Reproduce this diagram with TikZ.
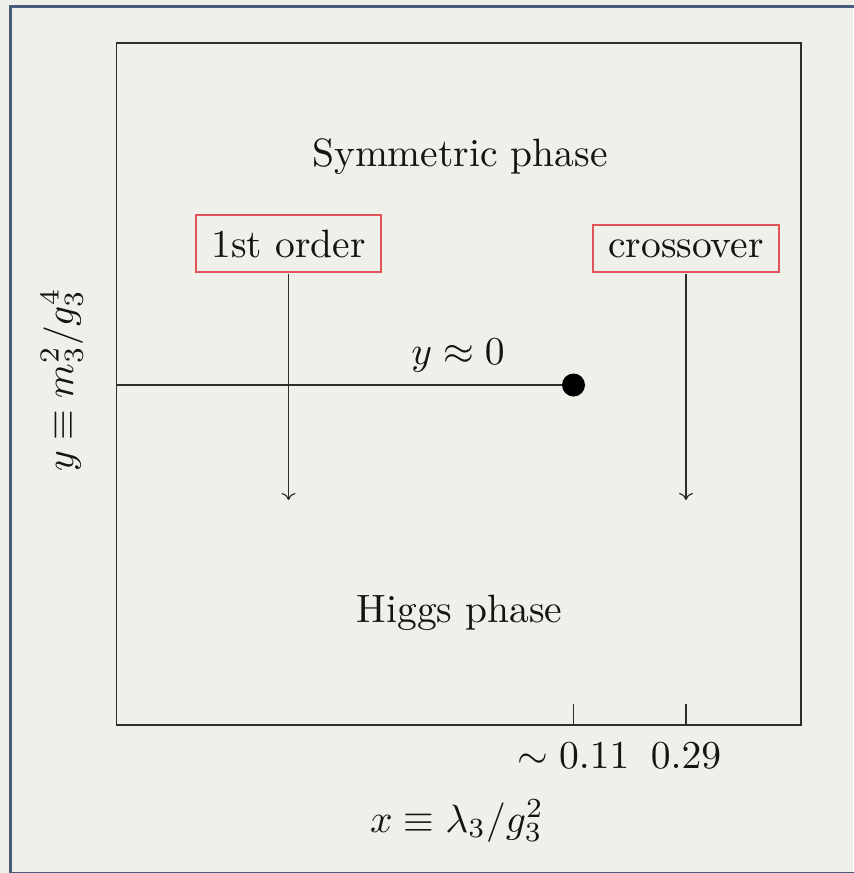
\documentclass[tikz,border=0pt]{standalone}
\usepackage{amsmath, amssymb}
\usepackage{tikz}
\usepackage{xcolor}
\usetikzlibrary{arrows.meta, positioning, calc}
\definecolor{paper}{RGB}{240,240,235}
\definecolor{frameblue}{RGB}{72,92,122}
\definecolor{boxred}{RGB}{226,84,90}
\definecolor{ink}{RGB}{45,45,45}

\tikzset{
  lbl/.style={font=\normalsize, scale=2.25, text=black!92},
  regimebox/.style={lbl, draw=boxred, line width=1.1pt, inner xsep=0.138cm, inner ysep=0.127cm, anchor=base},
  axisline/.style={draw=ink, line width=0.8pt},
  flow/.style={draw=ink, line width=0.7pt, -{To[length=4pt, width=8pt]}},
  critdot/.style={circle, fill=black, inner sep=0pt, minimum size=0.46cm}
}

\begin{document}
\begin{tikzpicture}[x=0.02cm, y=-0.02cm]
        \useasboundingbox (0,0) rectangle (853,873);
        % Background and frame
        \fill[paper] (0,0) rectangle (853,873);
        \draw[frameblue, line width=1.7pt] (10.5,6.5) rectangle (858,873.5);

        % Plot box
        \coordinate (sw) at (116.5,725);
        \coordinate (ne) at (801,43);
        \draw[axisline] (sw) rectangle (ne);

        % Phases
        \node[lbl, anchor=base] (sym) at (460,166) {Symmetric phase};
        \node[lbl, anchor=base] (higgs) at (459.5,622) {Higgs phase};

        % Regimes
        \node[regimebox] (first) at (288.5,257) {1st order};
        \node[regimebox] (cross) at (686,257) {crossover};
        \coordinate (firstend) at (first.south |- 0,500);
        \coordinate (crossend) at (cross.south |- 0,500);
        \draw[flow] (first.south) -- (firstend);
        \draw[flow] (cross.south) -- (crossend);

        % Transition line
        \node[critdot] (crit) at (573.5,385) {};
        \coordinate (ywall) at (sw |- crit);
        \draw[axisline, line width=0.7pt] (ywall) -- (crit);
        \node[lbl, anchor=base] (yzero) at (458,364) {$y \approx 0$};

        % Ticks
        \coordinate (tickA) at (crit |- sw);
        \coordinate (tickB) at (cross.south |- sw);
        \draw[axisline, line width=0.7pt] (tickA) -- ++(0,-21);
        \draw[axisline, line width=0.7pt] (tickB) -- ++(0,-21);
        \node[lbl, anchor=base] (tickAlbl) at ($(tickA)+(0,43)$) {$\sim 0.11$};
        \node[lbl, anchor=base] (tickBlbl) at ($(tickB)+(0,43)$) {$0.29$};

        % Axis labels
        \node[lbl, anchor=base] (xlab) at (457,832) {$x \equiv \lambda_3/g_3^2$};
        \node[lbl, anchor=base, rotate=90] (ylab) at (73,380) {$y \equiv m_3^2/g_3^4$};
    \end{tikzpicture}
\end{document}
